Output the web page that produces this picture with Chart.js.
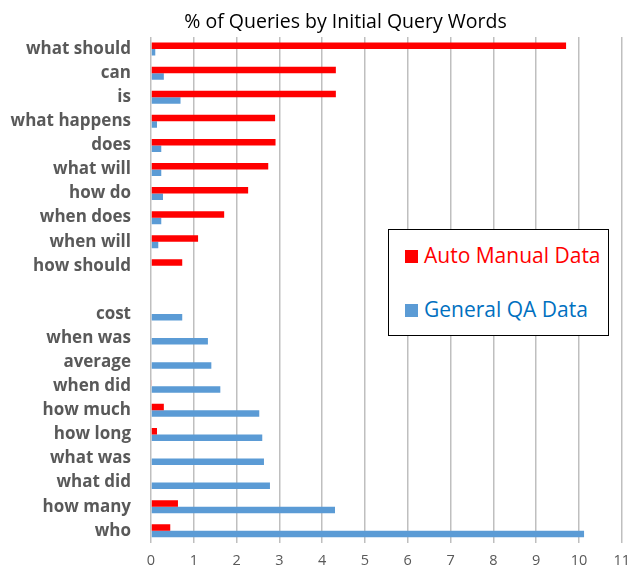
<!DOCTYPE html>
<html>
<head>
<meta charset="utf-8">
<script src="https://cdn.jsdelivr.net/npm/chart.js@4"></script>
<style>
  body { margin: 0; background: #fff; }
  #wrap { position: relative; width: 639px; height: 573px; }
  #titulo {
    position: absolute; left: 52px; top: 7px; width: 587px; text-align: center;
    font-family: "Open Sans", sans-serif; font-size: 19.5px; color: #000;
  }
  #legend {
    position: absolute; left: 388px; top: 229px; width: 219px; height: 105px;
    border: 1px solid #000; background: #fff; font-family: "Open Sans", sans-serif; font-size: 21px;
  }
  #legend div { position: absolute; left: 16px; white-space: nowrap; }
  #legend span.sw { display: inline-block; width: 13px; height: 13px; margin-right: 6px; vertical-align: 0px; }
</style>
</head>
<body>
<div id="wrap">
  <canvas id="grafico" width="639" height="573"></canvas>
  <div id="titulo">% of Queries by Initial Query Words</div>
  <div id="legend"></div>
</div>
<script>
const palabras = [
  "what should", "can", "is", "what happens", "does", "what will", "how do",
  "when does", "when will", "how should", "",
  "cost", "when was", "average", "when did", "how much", "how long",
  "what was", "what did", "how many", "who"
];

const autoManual = [9.7, 4.32, 4.32, 2.9, 2.91, 2.74, 2.27, 1.71, 1.1, 0.73, null,
  0, 0, 0, 0.02, 0.3, 0.14, 0, 0, 0.63, 0.45];

const generalQA = [0.1, 0.3, 0.69, 0.14, 0.24, 0.24, 0.28, 0.24, 0.17, 0, null,
  0.73, 1.33, 1.41, 1.62, 2.53, 2.6, 2.64, 2.78, 4.3, 10.12];

const series = [
  { nombre: "Auto Manual Data", color: "#FF0000", texto: "#FF0000", datos: autoManual },
  { nombre: "General QA Data", color: "#5B9BD5", texto: "#0070C0", datos: generalQA }
];

const ctx = document.getElementById("grafico").getContext("2d");
new Chart(ctx, {
  type: "bar",
  data: {
    labels: palabras,
    datasets: series.map(s => ({
      label: s.nombre,
      data: s.datos,
      backgroundColor: s.color,
      categoryPercentage: 0.54,
      barPercentage: 1.0
    }))
  },
  options: {
    indexAxis: "y",
    responsive: false,
    animation: false,
    layout: { padding: { left: 0, right: 10, top: 37, bottom: 0 } },
    plugins: {
      legend: { display: false },
      tooltip: { enabled: false },
      title: { display: false }
    },
    scales: {
      x: {
        min: 0, max: 11,
        ticks: { stepSize: 1, color: "#595959", font: { family: "Open Sans", size: 14.5 }, padding: 9 },
        grid: { color: "#bfbfbf", lineWidth: 1.5, drawTicks: false },
        border: { display: false },
        afterFit: scale => { scale.height = 30; }
      },
      y: {
        ticks: { color: "#595959", font: { family: "Open Sans", size: 17, weight: "bold" }, padding: 20, autoSkip: false },
        grid: { display: false, drawTicks: false },
        border: { display: false },
        afterFit: scale => { scale.width = 151; }
      }
    }
  }
});

const leyenda = document.getElementById("legend");
series.forEach((s, i) => {
  const d = document.createElement("div");
  d.style.top = (i === 0 ? 11 : 65) + "px";
  d.style.color = s.texto;
  d.innerHTML = `<span class="sw" style="background:${s.color}"></span>${s.nombre}`;
  leyenda.appendChild(d);
});
</script>
</body>
</html>
